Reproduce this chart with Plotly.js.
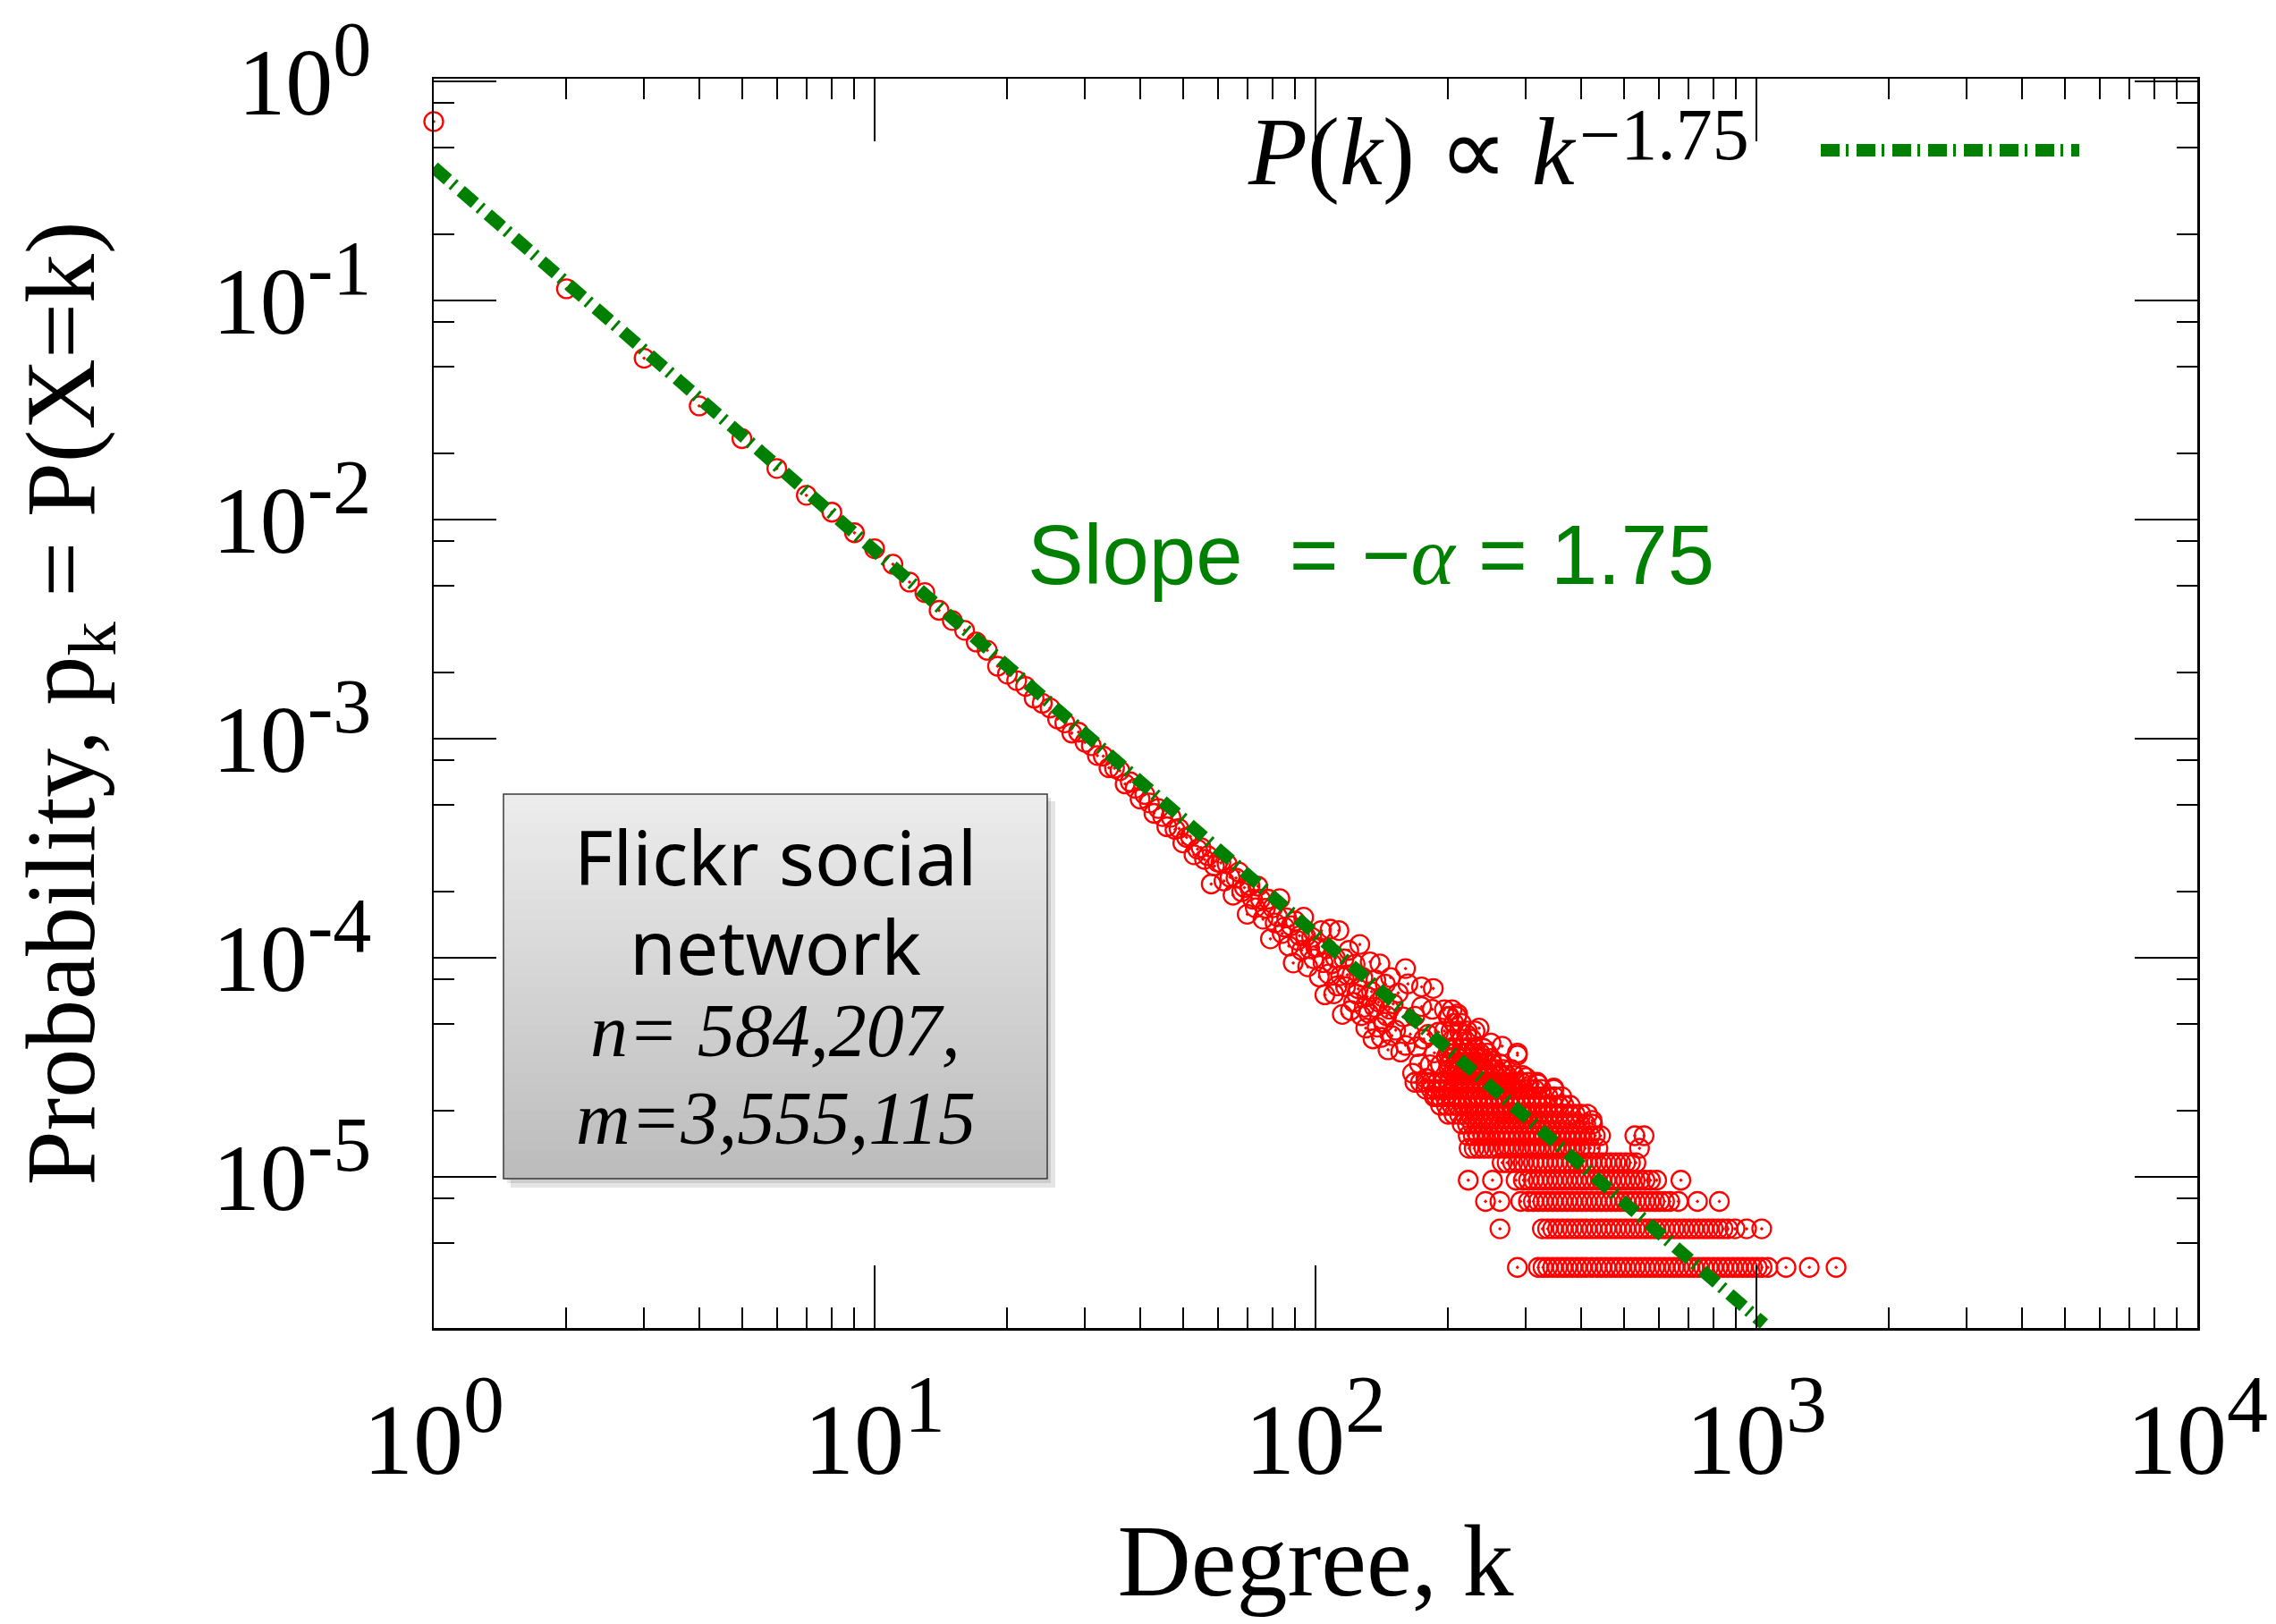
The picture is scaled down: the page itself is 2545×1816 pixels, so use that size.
<!DOCTYPE html>
<html>
<head>
<meta charset="utf-8">
<script src="https://cdn.plot.ly/plotly-3.0.1.min.js"></script>
<style>
  html, body { margin: 0; padding: 0; background: #ffffff; }
  #chart { width: 2545px; height: 1816px; }
</style>
</head>
<body>
<div id="chart"></div>
<script>
// ---------------- data ----------------
// head of the distribution: degree k = 1..20
const headK = [1,2,3,4,5,6,7,8,9,10,11,12,13,14,15,16,17,18,19,20];
const headP = [0.655,0.113,0.0545,0.033,0.0234,0.0171,0.0129,0.0108,0.0087,0.00736,
               0.00625,0.00518,0.00464,0.00385,0.00346,0.00312,0.00276,0.00253,0.00214,0.00197];

// k = 21..60
const bodyK1 = [21,22,23,24,25,26,27,28,29,30,31,32,33,34,35,36,37,38,39,40,
                41,42,43,44,45,46,47,48,49,50,51,52,53,54,55,56,57,58,59,60];
const bodyP1 = [1.84e-3,1.73e-3,1.53e-3,1.45e-3,1.38e-3,1.23e-3,1.18e-3,1.06e-3,1.07e-3,9.62e-4,
                9.29e-4,8.37e-4,8.32e-4,7.36e-4,7.33e-4,7.14e-4,6.21e-4,6.35e-4,5.93e-4,5.30e-4,
                5.56e-4,5.09e-4,4.56e-4,4.80e-4,4.41e-4,3.96e-4,4.38e-4,3.85e-4,3.89e-4,3.34e-4,
                3.54e-4,3.58e-4,2.95e-4,3.13e-4,3.18e-4,2.81e-4,2.92e-4,2.17e-4,2.62e-4,2.73e-4];

// k = 61..100
const bodyK2 = [61,62,63,64,65,66,67,68,69,70,71,72,73,74,75,76,77,78,79,80,
                81,82,83,84,85,86,87,88,89,90,91,92,93,94,95,96,97,98,99,100];
const bodyP2 = [2.71e-4,2.24e-4,2.68e-4,2.33e-4,1.93e-4,2.31e-4,2.46e-4,2.00e-4,2.09e-4,1.58e-4,
                2.13e-4,1.85e-4,1.69e-4,2.12e-4,1.85e-4,1.50e-4,1.68e-4,1.85e-4,1.22e-4,1.69e-4,
                1.44e-4,1.54e-4,1.86e-4,1.29e-4,1.38e-4,1.52e-4,1.13e-4,1.40e-4,9.46e-5,1.47e-4,
                1.20e-4,1.26e-4,1.08e-4,1.53e-4,1.25e-4,9.09e-5,1.10e-4,1.24e-4,9.89e-5,1.12e-4];

// k = 101..150
const bodyK3 = [101,102,103,104,105,106,107,108,109,110,111,112,113,114,115,116,117,118,119,120,
                121,122,123,124,125,126,127,128,129,130,131,132,133,134,135,136,137,138,139,140,
                141,142,143,144,145,146,147,148,149,150];
const bodyP3 = [1.12e-4,8.17e-5,1.33e-4,9.50e-5,6.77e-5,1.10e-4,8.43e-5,1.35e-4,9.38e-5,6.84e-5,
                9.96e-5,7.44e-5,1.33e-4,8.28e-5,5.51e-5,9.88e-5,7.38e-5,8.35e-5,1.08e-4,5.74e-5,
                8.37e-5,6.26e-5,9.34e-5,6.82e-5,7.21e-5,1.15e-4,5.44e-5,8.13e-5,5.94e-5,4.77e-5,
                6.64e-5,5.58e-5,9.57e-5,7.00e-5,4.26e-5,5.94e-5,7.91e-5,4.82e-5,6.27e-5,9.37e-5,
                4.33e-5,6.62e-5,5.08e-5,7.59e-5,5.43e-5,3.80e-5,5.82e-5,8.12e-5,4.41e-5,6.16e-5];

// k = 152..200
const bodyK4 = [152,154,156,158,160,162,164,166,168,170,172,174,176,178,180,182,184,186,188,190,
                192,194,196,198,200];
const bodyP4 = [4.67e-5,6.91e-5,3.71e-5,5.37e-5,3.98e-5,7.60e-5,4.48e-5,2.97e-5,5.41e-5,3.93e-5,
                3.28e-5,5.98e-5,4.25e-5,2.81e-5,4.47e-5,3.25e-5,5.81e-5,3.68e-5,2.33e-5,4.57e-5,
                3.25e-5,2.72e-5,4.63e-5,3.53e-5,2.40e-5];

// scattered points lying above the fitted line (k = 160..424)
const upperK = [160,174,185,200,210,220,235,250,265,287,300,320,347,380,424];
const upperP = [8.92e-5,7.36e-5,7.24e-5,5.38e-5,5.54e-5,4.46e-5,4.77e-5,4.08e-5,3.95e-5,3.59e-5,
                2.84e-5,2.65e-5,2.54e-5,1.91e-5,1.81e-5];

// tail: quantised probability levels and the degrees seen on each level
const tailP = [3.86e-6,5.79e-6,7.72e-6,9.65e-6,1.16e-5,1.35e-5,1.54e-5,1.74e-5,1.93e-5,2.12e-5,
               2.32e-5,2.51e-5,2.70e-5,2.90e-5,3.09e-5,3.28e-5,3.47e-5,3.67e-5,3.86e-5,4.25e-5,
               4.63e-5,5.02e-5,5.40e-5,5.79e-5];
const tailK = [
  [287,320,328,336,345,354,363,372,382,392,402,412,423,434,445,456,468,480,492,505,518,531,545,559,
   573,588,603,619,635,651,668,685,703,721,740,759,778,798,819,840,862,884,907,930,954,979,1004,1030,
   1062,1167,1318,1516],
  [262,327,336,345,354,363,372,382,392,402,412,423,434,445,456,468,480,492,505,518,531,545,559,573,
   588,603,619,635,651,668,685,703,721,740,759,778,798,819,840,862,894,950,1028],
  [243,262,292,304,312,320,328,336,345,354,363,372,382,392,402,412,423,434,445,456,468,480,492,505,
   518,531,545,559,573,588,603,619,636,665,735,824],
  [222,252,285,296,304,312,320,328,336,345,354,363,372,382,392,402,412,423,434,445,456,468,480,492,
   505,518,531,545,559,575,594,674],
  [265,272,280,288,296,304,312,320,328,336,345,354,363,372,382,392,402,412,423,434,445,456,468,480,
   492,505,518,533],
  [223,229,235,241,247,254,261,268,275,282,290,298,306,314,322,331,340,349,358,368,378,388,398,409,
   420,437,543],
  [222,228,234,240,247,254,261,268,275,282,290,298,306,314,322,331,340,349,358,368,378,388,398,409,
   420,431,443,530,556],
  [215,221,227,233,240,247,254,261,268,275,282,290,298,306,314,322,331,340,349,358,368,378,388,398,
   410,425],
  [200,206,212,218,224,230,236,243,250,257,264,271,279,287,295,303,311,320,329,338,347,357,367,377,
   388,400,414],
  [192,198,204,210,216,222,228,234,241,248,255,262,269,277,285,293,301,309,318,327,336,346,356,366,378],
  [186,192,197,203,209,215,221,227,233,240,247,254,261,268,276,284,292,300,309,318,327,337,348,362],
  [178,183,188,194,200,206,212,218,224,230,237,244,251,258,265,272,280,288,296,305,314,325,347],
  [168,173,178,183,189,195,201,207,213,219,225,232,239,246,253,260,268,276,284,293,303,318],
  [202,208,214,220,227,234,241,248,256,264,272,282,295],
  [201,207,213,220,227,234,241,249,257,266,278],
  [202,208,215,222,229,236,244,252,262],
  [204,211,218,225,232,240,250],
  [200,207,214,221,228,236,245,287],
  [201,208,215,222,230,240],
  [205,215,226],
  [203,212,221,230],
  [206,214],
  [201,209],
  [196,204]
];

// fitted power law P(k) ~ k^-1.75 (end points)
const fitK = [1, 1040];
const fitP = [0.405, 2.13e-6];

// axis ticks
const xTickVals = [1, 10, 100, 1000, 10000];
const xTickText = ['0', '1', '2', '3', '4'];
const xMinor = [2,3,4,5,6,7,8,9,20,30,40,50,60,70,80,90,200,300,400,500,600,700,800,900,
                2000,3000,4000,5000,6000,7000,8000,9000];
const yTickVals = [1, 0.1, 0.01, 0.001, 0.0001, 0.00001];
const yTickText = ['0', '-1', '-2', '-3', '-4', '-5'];
const yMinor = [0.8,0.5,0.2,0.08,0.05,0.02,0.008,0.005,0.002,0.0008,0.0005,0.0002,
                0.00008,0.00005,0.00002,0.000008,0.000005,0.000002];

// ---------------- assemble ----------------
let allK = [].concat(headK, bodyK1, bodyK2, bodyK3, bodyK4, upperK);
let allP = [].concat(headP, bodyP1, bodyP2, bodyP3, bodyP4, upperP);
tailK.forEach((ks, i) => { ks.forEach(k => { allK.push(k); allP.push(tailP[i]); }); });

const GREEN = '#008000';
const DASH = '21px,7px,3px,9px';
const powLabel = (e, s) => '10<sup><span style="font-size:' + s + 'px">' + e + '</span></sup>';

const traces = [
  {
    x: allK, y: allP, type: 'scatter', mode: 'markers',
    cliponaxis: false,
    marker: { symbol: 'circle-open-dot', size: 21, color: '#ff0000', line: { color: '#ff0000', width: 2.3 } },
    showlegend: false, hoverinfo: 'x+y'
  },
  {
    x: fitK, y: fitP, type: 'scatter', mode: 'lines',
    line: { color: GREEN, width: 14, dash: DASH },
    showlegend: false
  }
];

// paper-coordinate helpers for decorations (plot area: 485..2457 x, 88..1485 y)
const PL = 485, PR = 2457, PT = 88, PB = 1485;
const px = v => (v - PL) / (PR - PL);
const py = v => (PB - v) / (PB - PT);

const shapes = [];
// info box: drop shadow
shapes.push({ type: 'rect', xref: 'paper', yref: 'paper', x0: px(571), x1: px(1180), y0: py(1328), y1: py(896),
              line: { width: 0 }, fillcolor: 'rgba(0,0,0,0.10)', layer: 'above' });
shapes.push({ type: 'rect', xref: 'paper', yref: 'paper', x0: px(567), x1: px(1175), y0: py(1323), y1: py(892),
              line: { width: 0 }, fillcolor: 'rgba(0,0,0,0.10)', layer: 'above' });
// info box: vertical grey gradient
const BX0 = 563, BX1 = 1171, BY0 = 888, BY1 = 1318, NS = 40;
for (let i = 0; i < NS; i++) {
  const t = i / (NS - 1);
  const g = Math.round(236 - t * (236 - 188));
  shapes.push({ type: 'rect', xref: 'paper', yref: 'paper',
    x0: px(BX0), x1: px(BX1),
    y1: py(BY0 + (BY1 - BY0) * i / NS), y0: py(BY0 + (BY1 - BY0) * (i + 1) / NS) - 0.0005,
    line: { width: 0 }, fillcolor: `rgb(${g},${g},${g})`, layer: 'above' });
}
shapes.push({ type: 'rect', xref: 'paper', yref: 'paper', x0: px(BX0), x1: px(BX1), y0: py(BY1), y1: py(BY0),
              line: { color: '#3a3a3a', width: 1.5 }, fillcolor: 'rgba(0,0,0,0)', layer: 'above' });
// legend sample line
shapes.push({ type: 'line', xref: 'paper', yref: 'paper', x0: px(2036), x1: px(2325), y0: py(168), y1: py(168),
              line: { color: GREEN, width: 14, dash: DASH }, layer: 'above' });

const serif = 'Liberation Serif, Times New Roman, serif';
const annotations = [
  { xref: 'paper', yref: 'paper', x: px(1393), y: py(170), xanchor: 'left', yanchor: 'middle', showarrow: false,
    text: '<i>P</i>(<i>k</i>) ∝ <i>k</i>',
    font: { family: serif, size: 108, color: '#000' } },
  { xref: 'paper', yref: 'paper', x: px(1764), y: py(150), xanchor: 'left', yanchor: 'middle', showarrow: false,
    text: '−1.75',
    font: { family: serif, size: 82, color: '#000' } },
  { xref: 'paper', yref: 'paper', x: px(1147), y: py(620), xanchor: 'left', yanchor: 'middle', showarrow: false,
    text: 'Slope\u00a0 = −<span style="font-family:Liberation Serif"><i>α</i></span> = 1.75',
    font: { family: 'Liberation Sans, Arial, sans-serif', size: 94, color: GREEN } },
  { xref: 'paper', yref: 'paper', x: px(867), y: py(958), xanchor: 'center', yanchor: 'middle', showarrow: false,
    text: 'Flickr social', font: { family: 'Noto Sans, sans-serif', size: 84, color: '#000' } },
  { xref: 'paper', yref: 'paper', x: px(867), y: py(1057), xanchor: 'center', yanchor: 'middle', showarrow: false,
    text: 'network', font: { family: 'Noto Sans, sans-serif', size: 84, color: '#000' } },
  { xref: 'paper', yref: 'paper', x: px(867), y: py(1152), xanchor: 'center', yanchor: 'middle', showarrow: false,
    text: '<i>n= 584,207,</i>', font: { family: serif, size: 84, color: '#000' } },
  { xref: 'paper', yref: 'paper', x: px(867), y: py(1250), xanchor: 'center', yanchor: 'middle', showarrow: false,
    text: '<i>m=3,555,115</i>', font: { family: serif, size: 84, color: '#000' } }
];

const layout = {
  width: 2545, height: 1816,
  margin: { l: PL, r: 2545 - PR, t: PT, b: 1816 - PB, pad: 0 },
  paper_bgcolor: '#ffffff', plot_bgcolor: '#ffffff',
  showlegend: false,
  xaxis: {
    type: 'log', range: [0, 4], autorange: false,
    showline: true, linecolor: '#000', linewidth: 2.5, mirror: 'ticks',
    showgrid: false, zeroline: false,
    tickmode: 'array', tickvals: xTickVals, ticktext: xTickText.map(e => powLabel(e, 92)),
    ticks: 'inside', ticklen: 70, tickwidth: 2, tickcolor: '#000',
    minor: { tickmode: 'array', tickvals: xMinor, ticks: 'inside', ticklen: 23, tickwidth: 2, tickcolor: '#000', showgrid: false },
    tickfont: { family: serif, size: 112, color: '#000' },
    ticklabelstandoff: 26,
    automargin: false,
    title: { text: 'Degree, k', font: { family: serif, size: 114, color: '#000' }, standoff: 34 }
  },
  yaxis: {
    type: 'log', range: [-5.69, 0.012], autorange: false,
    showline: true, linecolor: '#000', linewidth: 2.5, mirror: 'ticks',
    showgrid: false, zeroline: false,
    tickmode: 'array', tickvals: yTickVals, ticktext: yTickText.map(e => powLabel(e, 86)),
    ticks: 'inside', ticklen: 70, tickwidth: 2, tickcolor: '#000',
    minor: { tickmode: 'array', tickvals: yMinor, ticks: 'inside', ticklen: 23, tickwidth: 2, tickcolor: '#000', showgrid: false },
    tickfont: { family: serif, size: 106, color: '#000' },
    ticklabelstandoff: 46,
    automargin: false,
    title: { text: 'Probability, p<sub>k</sub> = P(X=k)', font: { family: serif, size: 110, color: '#000' }, standoff: 95 }
  },
  shapes: shapes,
  annotations: annotations
};

Plotly.newPlot('chart', traces, layout, { displayModeBar: false, staticPlot: true });
</script>
</body>
</html>
